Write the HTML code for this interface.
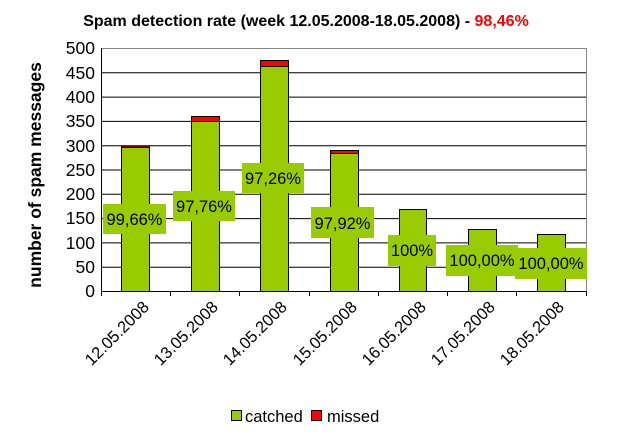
<!DOCTYPE html><html><head><style>body{margin:0;background:#fff}svg{display:block}</style></head><body>
<svg width="631" height="447" xmlns="http://www.w3.org/2000/svg" font-family="Liberation Sans, Arial, sans-serif">
<rect width="631" height="447" fill="#fff"/>
<text x="306" y="26" text-anchor="middle" font-size="16" font-weight="bold">Spam detection rate (week 12.05.2008-18.05.2008) - <tspan fill="#f00">98,46%</tspan></text>
<g stroke="#000" stroke-width="1">
<line x1="101" y1="48.5" x2="586" y2="48.5" stroke="#888"/>
<line x1="101" y1="72.8" x2="586" y2="72.8"/><line x1="101" y1="97.1" x2="586" y2="97.1"/>
<line x1="101" y1="121.4" x2="586" y2="121.4"/><line x1="101" y1="145.7" x2="586" y2="145.7"/>
<line x1="101" y1="170" x2="586" y2="170"/><line x1="101" y1="194.3" x2="586" y2="194.3"/>
<line x1="101" y1="218.6" x2="586" y2="218.6"/><line x1="101" y1="242.9" x2="586" y2="242.9"/>
<line x1="101" y1="267.2" x2="586" y2="267.2"/>
<line x1="586.5" y1="48" x2="586.5" y2="291" stroke="#888"/>
<line x1="101.5" y1="48" x2="101.5" y2="296"/>
<line x1="101" y1="291.5" x2="586" y2="291.5"/>
<line x1="170.5" y1="291" x2="170.5" y2="296"/><line x1="239.5" y1="291" x2="239.5" y2="296"/><line x1="309.5" y1="291" x2="309.5" y2="296"/><line x1="378.5" y1="291" x2="378.5" y2="296"/><line x1="447.5" y1="291" x2="447.5" y2="296"/><line x1="516.5" y1="291" x2="516.5" y2="296"/><line x1="586.5" y1="291" x2="586.5" y2="296"/>
</g>
<g font-size="17.5" text-anchor="end">
<text x="95" y="54">500</text><text x="95" y="79">450</text><text x="95" y="103">400</text><text x="95" y="127">350</text><text x="95" y="152">300</text><text x="95" y="176">250</text><text x="95" y="200">200</text><text x="95" y="224">150</text><text x="95" y="249">100</text><text x="95" y="273">50</text><text x="95" y="297">0</text>
</g>
<text transform="translate(41,175) rotate(-90)" text-anchor="middle" font-size="17.5" font-weight="bold">number of spam messages</text>
<g stroke="#000" stroke-width="1">
<rect x="121.5" y="147.5" width="28" height="144" fill="#99cc00"/><rect x="121.5" y="146" width="28" height="1.5" fill="#f00"/>
<rect x="191.5" y="121.5" width="28" height="170" fill="#99cc00"/><rect x="191.5" y="116.5" width="28" height="5" fill="#f00"/>
<rect x="260.5" y="66.5" width="28" height="225" fill="#99cc00"/><rect x="260.5" y="60.5" width="28" height="6" fill="#f00"/>
<rect x="330.5" y="153.5" width="28" height="138" fill="#99cc00"/><rect x="330.5" y="150.5" width="28" height="3" fill="#f00"/>
<rect x="399.5" y="209.5" width="27" height="82" fill="#99cc00"/>
<rect x="468.5" y="229.5" width="28" height="62" fill="#99cc00"/>
<rect x="537.5" y="234.5" width="28" height="57" fill="#99cc00"/>
</g>
<g fill="#99cc00">
<rect x="103" y="204" width="63" height="30"/><rect x="173" y="191" width="62" height="30"/><rect x="242" y="163" width="62" height="30"/><rect x="311" y="207" width="63" height="31"/><rect x="388" y="235" width="48" height="31"/><rect x="446" y="245" width="72" height="31"/><rect x="515" y="248" width="72" height="31"/>
</g>
<g font-size="16.5" text-anchor="middle">
<text x="134.5" y="225">99,66%</text><text x="204" y="212">97,76%</text><text x="273" y="184">97,26%</text><text x="342.5" y="229">97,92%</text><text x="412" y="256">100%</text><text x="482" y="266">100,00%</text><text x="551" y="269">100,00%</text>
</g>
<g font-size="16.5" text-anchor="end">
<text transform="translate(150,308) rotate(-45)">12.05.2008</text>
<text transform="translate(219,308) rotate(-45)">13.05.2008</text>
<text transform="translate(288,308) rotate(-45)">14.05.2008</text>
<text transform="translate(358,308) rotate(-45)">15.05.2008</text>
<text transform="translate(427,308) rotate(-45)">16.05.2008</text>
<text transform="translate(496,308) rotate(-45)">17.05.2008</text>
<text transform="translate(565,308) rotate(-45)">18.05.2008</text>
</g>
<rect x="231.5" y="410.5" width="10" height="10" fill="#99cc00" stroke="#000"/>
<text x="245" y="422" font-size="16.5">catched</text>
<rect x="311.5" y="410.5" width="10" height="10" fill="#f00" stroke="#000"/>
<text x="327" y="422" font-size="16.5">missed</text>
</svg>
</body></html>
